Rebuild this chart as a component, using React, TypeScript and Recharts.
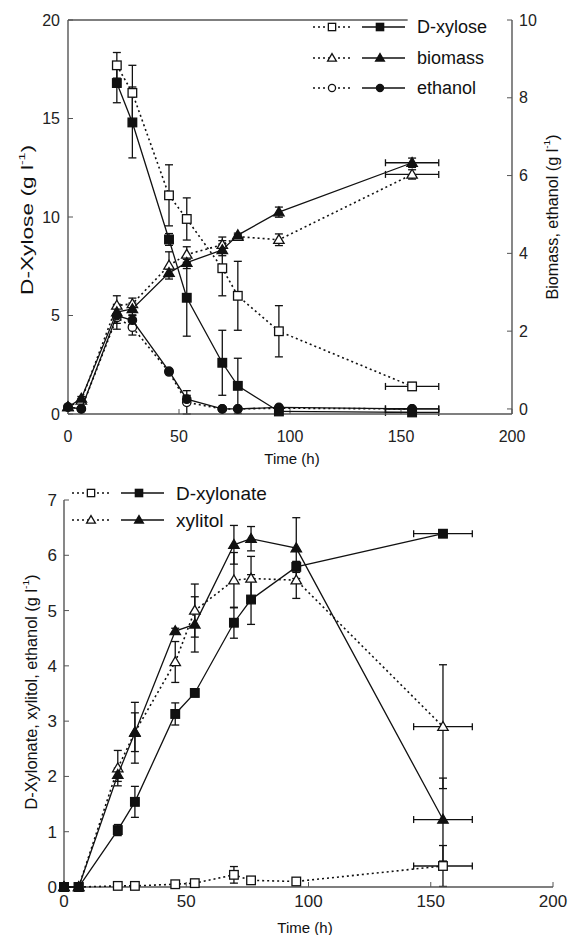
import React from 'react';
import { ScatterChart, Scatter, XAxis, YAxis, ErrorBar, ReferenceLine } from 'recharts';

// ---------- shared sampling times (h) ----------
const timeHours = [0, 6, 22, 29, 45.5, 53.5, 69.5, 76.5, 95, 155];
const xErrHours = [0, 0, 0, 0, 0, 0, 0, 0, 0, 12];

// ---------- top panel ----------
const topXTicks = [0, 50, 100, 150, 200];
const topLeftTicks = [0, 5, 10, 15, 20];
const topRightTicks = [0, 2, 4, 6, 8, 10];

const xyloseOpen = [null, null, 17.7, 16.3, 11.1, 9.9, 7.4, 6.0, 4.2, 1.4];
const xyloseOpenErr = [0, 0, 0.65, 1.4, 1.55, 1.07, 1.4, 1.75, 1.3, 0.2];
const xyloseFilled = [null, null, 16.8, 14.8, 8.86, 5.9, 2.6, 1.43, 0.13, 0.08];
const xyloseFilledErr = [0, 0, 1.0, 1.8, 0.3, 1.95, 1.65, 1.4, 0.05, 0.05];
const biomassOpen = [0.05, 0.22, 2.66, 2.7, 3.69, 3.97, 4.22, 4.43, 4.35, 6.03];
const biomassOpenErr = [0, 0.05, 0.25, 0.15, 0.35, 0.2, 0.2, 0.05, 0.15, 0.12];
const biomassFilled = [0.05, 0.27, 2.49, 2.57, 3.5, 3.76, 4.09, 4.47, 5.06, 6.33];
const biomassFilledErr = [0, 0.05, 0.2, 0.15, 0.1, 0.15, 0.15, 0.05, 0.13, 0.12];
const ethanolOpen = [0.05, 0, 2.35, 2.1, 0.95, 0.17, 0, 0, 0.02, 0];
const ethanolOpenErr = [0, 0, 0.3, 0.2, 0.05, 0.3, 0, 0, 0, 0];
const ethanolFilled = [0.05, 0, 2.4, 2.28, 0.97, 0.25, 0, 0, 0.04, 0];
const ethanolFilledErr = [0, 0, 0.2, 0.12, 0.05, 0.1, 0, 0, 0, 0];

// ---------- bottom panel ----------
const bottomXTicks = [0, 50, 100, 150, 200];
const bottomYTicks = [0, 1, 2, 3, 4, 5, 6, 7];

const xylonateOpen = [0, 0, 0.02, 0.02, 0.05, 0.07, 0.22, 0.12, 0.1, 0.38];
const xylonateOpenErr = [0, 0, 0, 0, 0.03, 0.03, 0.15, 0.05, 0.03, 0.37];
const xylonateFilled = [0, 0, 1.03, 1.54, 3.13, 3.51, 4.78, 5.2, 5.79, 6.39];
const xylonateFilledErr = [0, 0, 0.1, 0.28, 0.2, 0.05, 0.28, 0.45, 0.1, 0.05];
const xylitolOpen = [0, 0, 2.15, 2.8, 4.07, 5.0, 5.55, 5.58, 5.55, 2.9];
const xylitolOpenErr = [0, 0, 0.32, 0.35, 0.37, 0.48, 0.5, 0.4, 0.33, 1.12];
const xylitolFilled = [0, 0, 2.03, 2.79, 4.63, 4.75, 6.19, 6.3, 6.13, 1.22];
const xylitolFilledErr = [0, 0, 0.12, 0.55, 0.05, 0.5, 0.35, 0.22, 0.55, 0.75];

const legendTop = ['D-xylose', 'biomass', 'ethanol'];
const legendBottom = ['D-xylonate', 'xylitol'];

type Pt = { t: number; v: number; ey: number; ex: number };
function series(vals: (number | null)[], errs: number[]): Pt[] {
  const out: Pt[] = [];
  vals.forEach((v, i) => {
    if (v != null) out.push({ t: timeHours[i], v, ey: errs[i], ex: xErrHours[i] });
  });
  return out;
}

const FONT = '"Liberation Sans", Arial, sans-serif';
const INK = '#111';
const AXIS = '#555';
const dotted = { stroke: INK, strokeWidth: 1.6, strokeDasharray: '2 3' };
const solid = { stroke: INK, strokeWidth: 1.3 };

type Kind = 'square' | 'triangle' | 'circle';
function Marker({ kind, filled, cx, cy, s = 1 }: { kind: Kind; filled: boolean; cx: number; cy: number; s?: number }) {
  const fill = filled ? INK : '#fff';
  const common = { fill, stroke: INK, strokeWidth: 1.3 };
  if (kind === 'square') {
    const h = 4.3 * s;
    return <rect x={cx - h} y={cy - h} width={2 * h} height={2 * h} {...common} />;
  }
  if (kind === 'triangle') {
    const a = 5.2 * s;
    return <path d={`M${cx},${cy - a}L${cx + a},${cy + a * 0.7}L${cx - a},${cy + a * 0.7}Z`} {...common} />;
  }
  return <circle cx={cx} cy={cy} r={4.2 * s} {...common} />;
}
const shapeOf = (kind: Kind, filled: boolean) => (p: any) => {
  if (p == null || p.cx == null || p.cy == null) return <g />;
  return <Marker kind={kind} filled={filled} cx={p.cx} cy={p.cy} />;
};

const tickStyle = { fontSize: 16, fill: '#222', fontFamily: FONT };

function renderSeries(data: Pt[], kind: Kind, filled: boolean, yAxisId: string, key: string) {
  return (
    <Scatter
      key={key}
      yAxisId={yAxisId}
      data={data}
      shape={shapeOf(kind, filled)}
      line={filled ? solid : dotted}
      lineType="joint"
      fill={INK}
      isAnimationActive={false}
    >
      <ErrorBar dataKey="ey" direction="y" width={4} stroke={INK} strokeWidth={1.3} />
      <ErrorBar dataKey="ex" direction="x" width={3.5} stroke={INK} strokeWidth={1.3} />
    </Scatter>
  );
}

function LegendRow({ y, x0, kind, label, fontSize }: { y: number; x0: number; kind: Kind; label: string; fontSize: number }) {
  return (
    <g>
      <line x1={x0} y1={y} x2={x0 + 39} y2={y} {...dotted} />
      <Marker kind={kind} filled={false} cx={x0 + 19} cy={y} s={0.85} />
      <line x1={x0 + 49} y1={y} x2={x0 + 92} y2={y} {...solid} strokeWidth={1.5} />
      <Marker kind={kind} filled cx={x0 + 67} cy={y} s={0.85} />
      <text x={x0 + 104} y={y} dominantBaseline="central" fontSize={fontSize} fontFamily={FONT} fill="#111">
        {label}
      </text>
    </g>
  );
}

function RotTitle({ cx, cy, main, length, fontSize }: { cx: number; cy: number; main: string; length?: number; fontSize: number }) {
  return (
    <text
      x={cx}
      y={cy}
      transform={`rotate(-90, ${cx}, ${cy})`}
      textAnchor="middle"
      dominantBaseline="central"
      fontSize={fontSize}
      fontFamily={FONT}
      fill="#111"
      {...(length ? { textLength: length, lengthAdjust: 'spacingAndGlyphs' } : {})}
    >
      {main}
      <tspan dy={-6} fontSize={fontSize * 0.62}>{'-1'}</tspan>
      <tspan dy={6}>)</tspan>
    </text>
  );
}

export default function App() {
  return (
    <div style={{ position: 'absolute', left: 0, top: 0, width: 568, height: 935, background: '#fff', fontFamily: FONT }}>
      <div style={{ position: 'absolute', left: 0, top: 0 }}>
        <ScatterChart width={568} height={470} margin={{ top: 20, right: 0, bottom: 0, left: 0 }}>
          <XAxis
            type="number"
            dataKey="t"
            domain={[0, 200]}
            ticks={topXTicks}
            height={56}
            tick={tickStyle}
            tickSize={-5}
            tickMargin={22}
            axisLine={{ stroke: AXIS, strokeWidth: 1.4 }}
            tickLine={{ stroke: AXIS }}
          />
          <YAxis
            yAxisId="left"
            type="number"
            dataKey="v"
            domain={[0, 20]}
            ticks={topLeftTicks}
            width={68}
            tick={tickStyle}
            tickSize={-5}
            tickMargin={13}
            axisLine={{ stroke: AXIS, strokeWidth: 1.4 }}
            tickLine={{ stroke: AXIS }}
          />
          <YAxis
            yAxisId="right"
            orientation="right"
            type="number"
            dataKey="v"
            domain={[0, 10]}
            ticks={topRightTicks}
            width={56}
            tick={tickStyle}
            tickSize={-5}
            tickMargin={12}
            axisLine={{ stroke: AXIS, strokeWidth: 1.4 }}
            tickLine={{ stroke: AXIS }}
          />
          <ReferenceLine
            yAxisId="left"
            segment={[{ x: 0, y: 20 }, { x: 153, y: 20 }]}
            stroke={AXIS}
            strokeWidth={1.6}
          />
          {renderSeries(series(xyloseOpen, xyloseOpenErr), 'square', false, 'left', 'xo')}
          {renderSeries(series(biomassOpen, biomassOpenErr), 'triangle', false, 'right', 'bo')}
          {renderSeries(series(ethanolOpen, ethanolOpenErr), 'circle', false, 'right', 'eo')}
          {renderSeries(series(xyloseFilled, xyloseFilledErr), 'square', true, 'left', 'xf')}
          {renderSeries(series(biomassFilled, biomassFilledErr), 'triangle', true, 'right', 'bf')}
          {renderSeries(series(ethanolFilled, ethanolFilledErr), 'circle', true, 'right', 'ef')}
        </ScatterChart>
      </div>
      <div style={{ position: 'absolute', left: 0, top: 470 }}>
        <ScatterChart width={568} height={465} margin={{ top: 30, right: 15, bottom: 0, left: 0 }}>
          <XAxis
            type="number"
            dataKey="t"
            domain={[0, 200]}
            ticks={bottomXTicks}
            height={48}
            tick={{ ...tickStyle, fontSize: 17 }}
            tickSize={-5}
            tickMargin={13}
            axisLine={{ stroke: AXIS, strokeWidth: 1.4 }}
            tickLine={{ stroke: AXIS }}
          />
          <YAxis
            yAxisId="left"
            type="number"
            dataKey="v"
            domain={[0, 7]}
            ticks={bottomYTicks}
            width={64}
            tick={{ ...tickStyle, fontSize: 17 }}
            tickSize={-5}
            tickMargin={12}
            axisLine={{ stroke: AXIS, strokeWidth: 1.4 }}
            tickLine={{ stroke: AXIS }}
          />
          {renderSeries(series(xylonateOpen, xylonateOpenErr), 'square', false, 'left', 'no')}
          {renderSeries(series(xylitolOpen, xylitolOpenErr), 'triangle', false, 'left', 'yo')}
          {renderSeries(series(xylonateFilled, xylonateFilledErr), 'square', true, 'left', 'nf')}
          {renderSeries(series(xylitolFilled, xylitolFilledErr), 'triangle', true, 'left', 'yf')}
        </ScatterChart>
      </div>
      <svg
        width={568}
        height={935}
        style={{ position: 'absolute', left: 0, top: 0, pointerEvents: 'none' }}
      >
        {/* top panel titles */}
        <RotTitle cx={27} cy={220} main="D-Xylose (g l" fontSize={16} length={150} />
        <RotTitle cx={552} cy={217} main="Biomass, ethanol (g l" fontSize={16} length={165} />
        <text x={292} y={458} textAnchor="middle" dominantBaseline="central" fontSize={15} fontFamily={FONT} fill="#111">
          Time (h)
        </text>
        {/* bottom panel titles */}
        <RotTitle cx={31} cy={692} main="D-Xylonate, xylitol, ethanol (g l" fontSize={16} length={235} />
        <text x={305} y={927} textAnchor="middle" dominantBaseline="central" fontSize={15} fontFamily={FONT} fill="#111">
          Time (h)
        </text>
        {/* legends */}
        <LegendRow y={27} x0={313} kind="square" label={legendTop[0]} fontSize={18} />
        <LegendRow y={58} x0={313} kind="triangle" label={legendTop[1]} fontSize={18} />
        <LegendRow y={88} x0={313} kind="circle" label={legendTop[2]} fontSize={18} />
        <LegendRow y={493} x0={72} kind="square" label={legendBottom[0]} fontSize={19} />
        <LegendRow y={520} x0={72} kind="triangle" label={legendBottom[1]} fontSize={19} />
      </svg>
    </div>
  );
}
